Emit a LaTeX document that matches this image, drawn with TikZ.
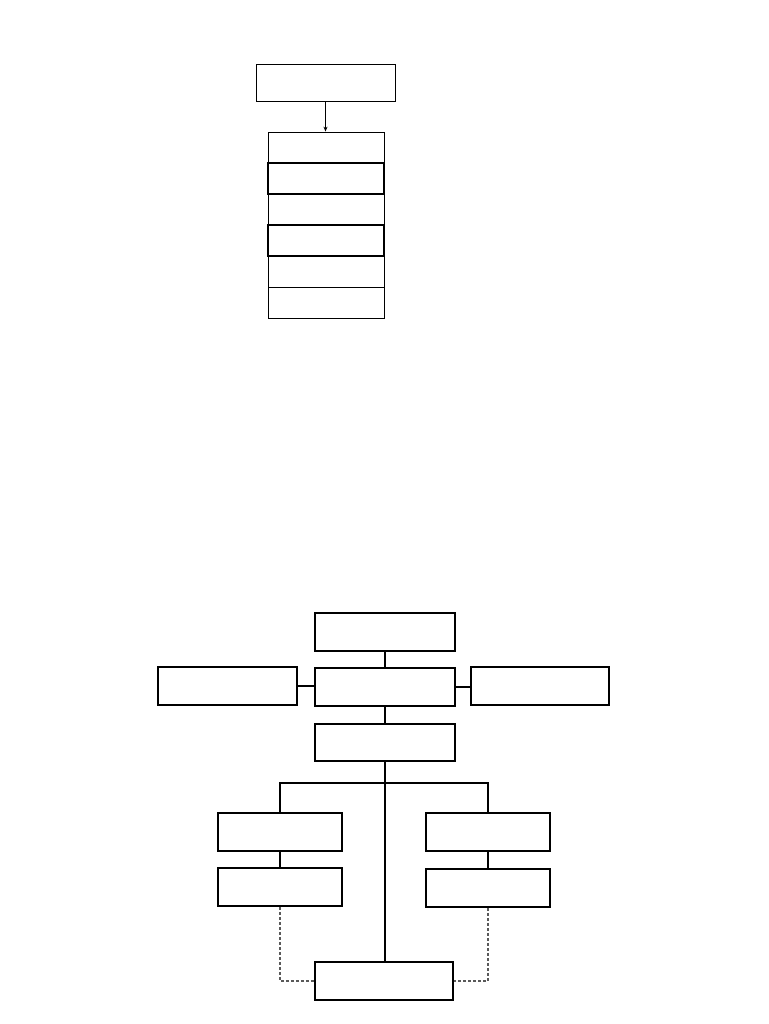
\documentclass[tikz,border=0pt]{standalone}
\usetikzlibrary{arrows.meta}
\begin{document}
\begin{tikzpicture}[x=1pt,y=-1pt,
  thinbox/.style={draw, rectangle, inner sep=0pt, line width=0.8pt},
  thickrow/.style={draw, rectangle, inner sep=0pt, line width=1.1pt},
  boldbox/.style={draw, rectangle, inner sep=0pt, line width=1.7pt},
  link/.style={line width=1.7pt},
  dashlink/.style={draw=gray!70!black, line width=1.1pt, dash pattern=on 3pt off 2pt}]
\useasboundingbox (0,0) rectangle (768,1024);
% top diagram
\node[thinbox, minimum width=139pt, minimum height=37pt] (a) at (325.5,82.5) {};
\node[thinbox, minimum width=116pt, minimum height=31pt] (s1) at (326,147.5) {};
\node[thickrow, minimum width=116pt, minimum height=31pt] (s2) at (326,178.5) {};
\node[thinbox, minimum width=116pt, minimum height=31pt] (s3) at (326,209.5) {};
\node[thickrow, minimum width=116pt, minimum height=31pt] (s4) at (326,240.5) {};
\node[thinbox, minimum width=116pt, minimum height=31pt] (s5) at (326,271.5) {};
\node[thinbox, minimum width=116pt, minimum height=31pt] (s6) at (326,302.5) {};
\draw[line width=0.8pt, -{Stealth[length=5pt,width=4pt]}] (a.south) -- (a.south |- s1.north);
% bottom diagram
\node[boldbox, minimum width=140pt, minimum height=38pt] (t1) at (385,632) {};
\node[boldbox, minimum width=140pt, minimum height=38pt] (m) at (385,687) {};
\node[boldbox, minimum width=139pt, minimum height=38pt] (l) at (227.5,686) {};
\node[boldbox, minimum width=138pt, minimum height=38pt] (r) at (540,686) {};
\node[boldbox, minimum width=140pt, minimum height=37pt] (t3) at (385,742.5) {};
\node[boldbox, minimum width=124pt, minimum height=38pt] (ll1) at (280,832) {};
\node[boldbox, minimum width=124pt, minimum height=38pt] (ll2) at (280,887) {};
\node[boldbox, minimum width=124pt, minimum height=38pt] (rr1) at (488,832) {};
\node[boldbox, minimum width=124pt, minimum height=38pt] (rr2) at (488,888) {};
\node[boldbox, minimum width=138pt, minimum height=38pt] (b) at (384,981) {};
\coordinate (bus) at (385,783);
\draw[link] (t1.south) -- (m.north);
\draw[link] (l.east) -- (l.east -| m.west);
\draw[link] (m.east) -- (m.east -| r.west);
\draw[link] (m.south) -- (t3.north);
\draw[link] (t3.south) -- (t3.south |- b.north);
\draw[link] (ll1.north) |- (bus) -| (rr1.north);
\draw[link] (ll1.south) -- (ll2.north);
\draw[link] (rr1.south) -- (rr2.north);
\draw[dashlink] (ll2.south) |- (b.west);
\draw[dashlink] (rr2.south) |- (b.east);
\end{tikzpicture}
\end{document}
